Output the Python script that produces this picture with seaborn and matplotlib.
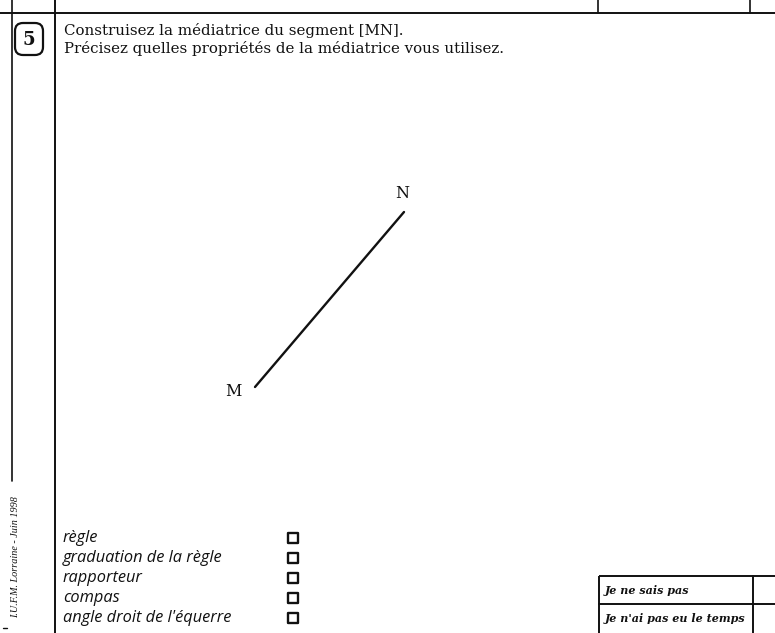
import matplotlib
matplotlib.use("Agg")
import matplotlib.pyplot as plt
from matplotlib.patches import FancyBboxPatch, Rectangle
import seaborn as sns

sns.set_theme(style="white")

# segment [MN] in page pixel coordinates (y grows downward)
seg_labels = ["M", "N"]
seg_x = [255, 404]
seg_y = [387, 212]

title_lines = ["Construisez la médiatrice du segment [MN].",
               "Précisez quelles propriétés de la médiatrice vous utilisez."]
tools = ["règle", "graduation de la règle", "rapporteur", "compas",
         "angle droit de l'équerre"]
tool_y = [538, 558, 578, 598, 618]
answers = ["Je ne sais pas", "Je n'ai pas eu le temps"]

W, H = 775, 633
fig = plt.figure(figsize=(W / 100, H / 100), dpi=100)
ax = fig.add_axes([0, 0, 1, 1])
ax.set_xlim(0, W)
ax.set_ylim(H, 0)
ax.axis("off")

ink = "#111111"
# frame lines
ax.plot([0, W], [13, 13], color=ink, lw=1.4)
ax.plot([12, 12], [0, 481], color=ink, lw=1.2)
ax.plot([55, 55], [0, H], color=ink, lw=1.4)
for tx in [598, 750]:
    ax.plot([tx, tx], [0, 13], color=ink, lw=1.2)
ax.plot([3, 7], [628, 628], color=ink, lw=1.0)

# exercise number
ax.add_patch(FancyBboxPatch((15, 23), 28, 32, boxstyle="round,pad=0,rounding_size=8",
                            fc="white", ec=ink, lw=1.6))
ax.text(29, 40, "5", ha="center", va="center", fontsize=13, fontweight="bold",
        family="DejaVu Serif", color=ink)

serif = "DejaVu Serif"
ax.text(64, 35, title_lines[0], ha="left", va="baseline", fontsize=10.8, family=serif, color=ink)
ax.text(64, 53, title_lines[1], ha="left", va="baseline", fontsize=10.8, family=serif, color=ink)

# segment and its labels
sns.lineplot(x=seg_x, y=seg_y, ax=ax, color=ink, lw=1.7, sort=False)
ax.text(seg_x[0] - 22, seg_y[0] + 5, seg_labels[0], ha="center", va="center",
        fontsize=11.5, family=serif, color=ink)
ax.text(seg_x[1] - 2, seg_y[1] - 19, seg_labels[1], ha="center", va="center",
        fontsize=11.5, family=serif, color=ink)

# rotated credit
ax.text(16, 557, "I.U.F.M. Lorraine - Juin 1998", rotation=90, ha="center", va="center",
        fontsize=7.3, style="italic", family="Liberation Serif", color=ink)

# checklist
for name, yy in zip(tools, tool_y):
    ax.text(63, yy, name, ha="left", va="center", fontsize=11.8, style="italic",
            family="Open Sans", color=ink)
sns.scatterplot(x=[293] * len(tool_y), y=tool_y, ax=ax, marker="s", s=48,
                facecolor="white", edgecolor=ink, linewidth=1.7, legend=False)

# answer table
ax.add_patch(Rectangle((599, 576), 190, 60, fill=False, ec=ink, lw=1.4))
ax.plot([599, W], [604, 604], color=ink, lw=1.4)
ax.plot([753, 753], [576, H], color=ink, lw=1.4)
for txt, yy in zip(answers, [591, 618]):
    ax.text(605, yy, txt, ha="left", va="center", fontsize=8, style="italic",
            fontweight="bold", family="DejaVu Serif", color=ink)

fig.savefig("out.png", dpi=100, facecolor="white")
